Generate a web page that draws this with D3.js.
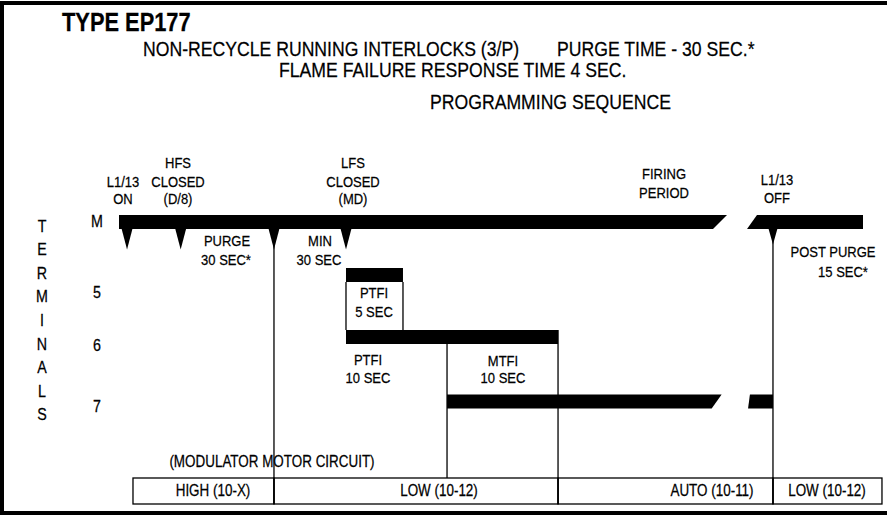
<!DOCTYPE html>
<html>
<head>
<meta charset="utf-8">
<script src="https://cdn.jsdelivr.net/npm/d3@7"></script>
<style>
  html, body { margin: 0; padding: 0; background: #fff; }
  svg text { font-family: "Liberation Sans", Arial, sans-serif; fill: #000; stroke: #000; stroke-width: 0.25px; }
</style>
</head>
<body>
<svg id="chart" width="887" height="517"></svg>
<script>
// ---------------- DATA (schematic sequence units) ----------------
const terminals = ["M", "5", "6", "7"];
const terminalLevel = [0, 5.3, 11.5, 17.95];          // row level of each terminal bar

// energised bars (terminal, start/end along the sequence; top/bottom differ where the bar is cut)
const barTerminal    = ["M", "M", "5", "6", "7", "7"];
const barStartTop    = [0, 85.75, 30.51, 30.51, 44.09, 84.8];
const barStartBottom = [0, 84.41, 30.51, 30.51, 44.09, 84.55];
const barEndTop      = [81.72, 100, 38.17, 59.1, 81.0, 87.9];
const barEndBottom   = [79.84, 100, 38.17, 59.1, 79.66, 87.9];

// sequence events marked on the M line
const eventNames = ["L1/13 ON", "HFS CLOSED (D/8)", "PURGE END", "LFS CLOSED (MD)", "L1/13 OFF"];
const eventPos   = [1.08, 8.29, 20.83, 30.51, 87.9];

// timing boundaries (vertical guides)
const guidePos  = [20.83, 30.51, 38.17, 44.09, 59.01, 87.9];
const guideFrom = [1.4, 6.7, 6.7, 12.9, 12.9, 1.4];
const guideTo   = [28.9, 11.5, 11.5, 26.3, 28.9, 28.9];

// modulator motor circuit table
const motorModes = ["HIGH (10-X)", "LOW (10-12)", "AUTO (10-11)", "LOW (10-12)"];
const modeStart  = [1.88, 20.83, 59.01, 87.9];
const modeEnd    = [20.83, 59.01, 87.9, 102.55];

const terminalsWord = ["T", "E", "R", "M", "I", "N", "A", "L", "S"];

// ---------------- DRAWING ----------------
const svg = d3.select("#chart");
const x = d3.scaleLinear().domain([0, 100]).range([119, 863]);
const y = d3.scaleLinear().domain([0, 30]).range([215, 515]);
const barH = 1.4;
const SX = 0.84;

function txt(px, py, s, size, opts = {}) {
  const t = svg.append("text")
    .attr("transform", `translate(${px},${py}) scale(${opts.sx || SX},1)`)
    .attr("text-anchor", opts.anchor || "middle")
    .style("font-size", size + "px")
    .style("font-weight", opts.weight || "normal")
    .text(s);
  return t;
}

// outer frame
svg.append("rect").attr("x", 2).attr("y", 3).attr("width", 900).attr("height", 510)
  .attr("fill", "none").attr("stroke", "#000").attr("stroke-width", 4);

// headers
txt(62, 31, "TYPE EP177", 26, { anchor: "start", weight: "bold" });
txt(143, 56, "NON-RECYCLE RUNNING INTERLOCKS (3/P)", 21, { anchor: "start" });
txt(557, 56, "PURGE TIME - 30 SEC.*", 21, { anchor: "start" });
txt(279, 77, "FLAME FAILURE RESPONSE TIME 4 SEC.", 21, { anchor: "start" });
txt(430, 109, "PROGRAMMING SEQUENCE", 21, { anchor: "start" });

// vertical "TERMINALS" (evenly stacked letters)
terminalsWord.forEach((c, i) => txt(42, 231.5 + i * 23.6, c, 17));

// terminal labels
const termLabelBase = [227, 298, 351, 412];
terminals.forEach((t, i) => txt(97, termLabelBase[i], t, 17));

// guides
svg.append("g").selectAll("line").data(guidePos).join("line")
  .attr("x1", d => x(d)).attr("x2", d => x(d))
  .attr("y1", (d, i) => y(guideFrom[i])).attr("y2", (d, i) => y(guideTo[i]))
  .attr("stroke", "#000").attr("stroke-width", 1.3);

// bars
const bars = barTerminal.map((t, i) => ({
  lvl: terminalLevel[terminals.indexOf(t)],
  st: barStartTop[i], sb: barStartBottom[i], et: barEndTop[i], eb: barEndBottom[i]
}));
svg.append("g").selectAll("polygon").data(bars).join("polygon")
  .attr("points", d => [
    [x(d.st), y(d.lvl)], [x(d.et), y(d.lvl)],
    [x(d.eb), y(d.lvl + barH)], [x(d.sb), y(d.lvl + barH)]
  ].map(p => p.join(",")).join(" "))
  .attr("fill", "#000");

// event triangles under the M line
svg.append("g").selectAll("path").data(eventPos).join("path")
  .attr("d", (d, i) => {
    const cx = x(d), top = y(barH) - 0.5;
    const w = i === 4 ? 4.5 : 5.5, h = i === 4 ? 16 : 21;
    return `M${cx - w},${top} L${cx + w},${top} L${cx},${top + h} Z`;
  })
  .attr("fill", "#000");

// motor circuit table
svg.append("g").selectAll("rect").data(motorModes).join("rect")
  .attr("x", (d, i) => x(modeStart[i])).attr("width", (d, i) => x(modeEnd[i]) - x(modeStart[i]))
  .attr("y", y(26.3)).attr("height", y(28.9) - y(26.3))
  .attr("fill", "none").attr("stroke", "#000").attr("stroke-width", 1.3);
const modeTextX = [213, 439, 712, 827];
motorModes.forEach((m, i) => txt(modeTextX[i], 496, m, 16));
txt(272, 467, "(MODULATOR MOTOR CIRCUIT)", 16);

// annotations
const LS = 15.5;
txt(123, 187, "L1/13", LS); txt(123, 204, "ON", LS);
txt(178, 168, "HFS", LS); txt(178, 187, "CLOSED", LS); txt(178, 204, "(D/8)", LS);
txt(353, 168, "LFS", LS); txt(353, 187, "CLOSED", LS); txt(353, 204, "(MD)", LS);
txt(664, 179, "FIRING", LS); txt(664, 198, "PERIOD", LS);
txt(777, 185, "L1/13", LS); txt(777, 203, "OFF", LS);
txt(227, 246, "PURGE", LS); txt(226, 265, "30 SEC*", LS);
txt(320, 246, "MIN", LS); txt(319, 265, "30 SEC", LS);
txt(374, 298, "PTFI", LS); txt(374, 317, "5 SEC", LS);
txt(368, 365, "PTFI", LS); txt(368, 383, "10 SEC", LS);
txt(503, 366, "MTFI", LS); txt(503, 383, "10 SEC", LS);
txt(833, 257, "POST PURGE", LS); txt(843, 277, "15 SEC*", LS);
</script>
</body>
</html>
